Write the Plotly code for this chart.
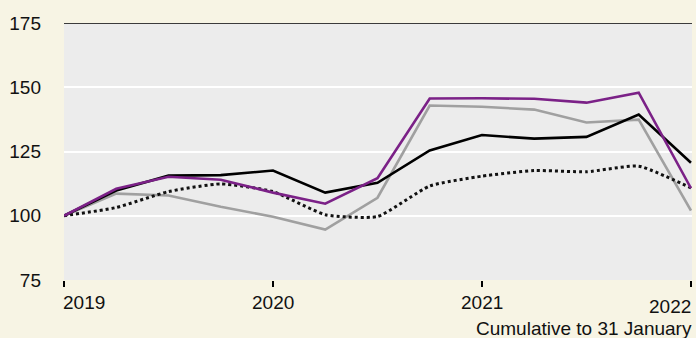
import plotly.graph_objects as go

# Quarterly observations, 2019 through 2022 (index, start = 100)
quarters = [2019.0, 2019.25, 2019.5, 2019.75, 2020.0, 2020.25, 2020.5,
            2020.75, 2021.0, 2021.25, 2021.5, 2021.75, 2022.0]

series_black = [100, 109.8, 115.6, 115.8, 117.6, 109.0, 112.8,
                125.4, 131.4, 130.0, 130.7, 139.4, 120.6]
series_purple = [100, 110.5, 115.2, 114.0, 109.0, 104.7, 114.6,
                 145.6, 145.7, 145.5, 144.0, 147.9, 110.7]
series_grey = [100, 108.6, 107.9, 103.5, 99.6, 94.6, 107.0,
               142.9, 142.4, 141.3, 136.3, 137.4, 102.0]
series_dotted = [100, 103.2, 109.4, 112.4, 109.4, 100.4, 99.7,
                 111.6, 115.4, 117.6, 117.1, 119.3, 110.8]

y_ticks = [75, 100, 125, 150, 175]
x_ticks = [2019, 2020, 2021, 2022]
x_tick_text = ["2019", "2020", "2021", "2022"]
x_title = "Cumulative to 31 January"

FONT = "Liberation Sans, Arial, Helvetica, sans-serif"
CREAM = "#f7f4e4"
PANEL = "#ececec"
FS = 19

fig = go.Figure()

fig.add_trace(go.Scatter(x=quarters, y=series_grey, mode="lines",
                         line=dict(color="#a0a0a0", width=2.6)))
fig.add_trace(go.Scatter(x=quarters, y=series_dotted, mode="lines",
                         line=dict(color="#111111", width=3, dash="dot",
                                   shape="spline", smoothing=0.5)))
fig.add_trace(go.Scatter(x=quarters, y=series_black, mode="lines",
                         line=dict(color="#000000", width=2.6)))
fig.add_trace(go.Scatter(x=quarters, y=series_purple, mode="lines",
                         line=dict(color="#7b2187", width=2.6)))

# Black rule along the top of the panel
fig.add_shape(type="line", xref="paper", yref="y", x0=0, x1=1,
              y0=175, y1=175, line=dict(color="#000000", width=1.5),
              layer="above")

# Year labels: first left-aligned, last right-aligned so they stay inside
anchors = ["left", "center", "center", "right"]
xshifts = [-3, 0, 0, 2]
yshifts = [-10, -10, -10, -14]
for xv, txt, anc, xo, yo in zip(x_ticks, x_tick_text, anchors, xshifts, yshifts):
    fig.add_annotation(x=xv, y=0, xref="x", yref="paper", text=txt,
                       showarrow=False, xanchor=anc, yanchor="top",
                       xshift=xo, yshift=yo,
                       font=dict(family=FONT, size=FS, color="#111111"))

fig.add_annotation(x=1, y=0, xref="paper", yref="paper", text=x_title,
                   showarrow=False, xanchor="right", yanchor="top",
                   yshift=-36, xshift=2,
                   font=dict(family=FONT, size=FS, color="#111111"))

fig.update_layout(
    width=696, height=338,
    margin=dict(l=64, r=4, t=23, b=58),
    paper_bgcolor=CREAM,
    plot_bgcolor=PANEL,
    showlegend=False,
    font=dict(family=FONT, size=FS, color="#111111"),
    xaxis=dict(range=[2019, 2022.005], showgrid=False, zeroline=False,
               tickvals=x_ticks, showticklabels=False,
               ticks="outside", ticklen=6, tickwidth=1.5, tickcolor="#000000",
               showline=False, fixedrange=True),
    yaxis=dict(range=[75, 175], tickvals=y_ticks, showgrid=True,
               gridcolor="#ffffff", gridwidth=1.5, zeroline=False,
               showline=False, ticks="", ticklabelstandoff=22,
               tickfont=dict(family=FONT, size=FS, color="#111111"),
               fixedrange=True),
)

fig.write_html("out.html")
